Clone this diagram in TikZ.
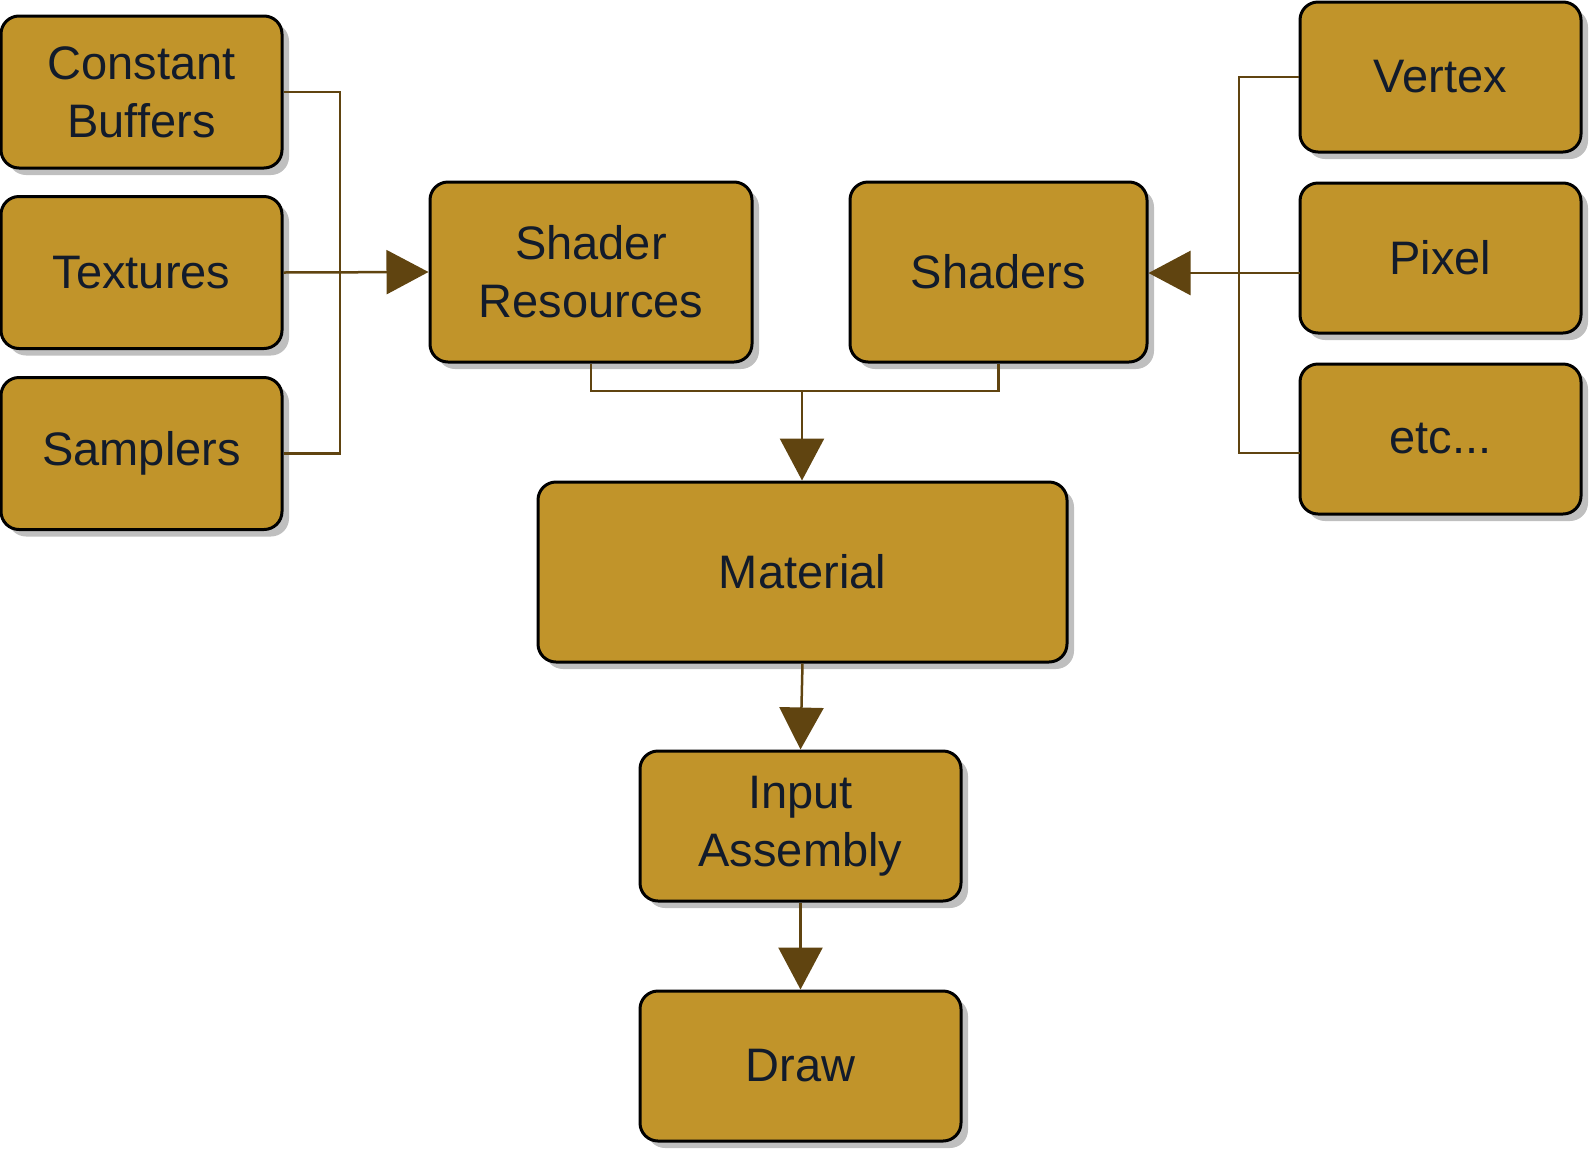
\documentclass[tikz,border=0pt]{standalone}
\usepackage{fontspec}
\setmainfont{Liberation Sans}
\usetikzlibrary{arrows.meta,shadows}
\definecolor{boxfill}{HTML}{C1942A}
\definecolor{linecol}{HTML}{604410}
\definecolor{txtcol}{HTML}{121B2B}
\definecolor{shadowcol}{HTML}{BFBFBF}
\tikzset{
  box/.style={draw=black, line width=1.5pt, fill=boxfill, rounded corners=9pt,
    text=txtcol, align=center, inner sep=0pt,
    font=\fontsize{23.5}{29}\selectfont,
    general shadow={fill=shadowcol, shadow xshift=3.5pt, shadow yshift=-3.5pt}},
  conn/.style={draw=linecol, line width=1.25pt},
  arr/.style={conn, -{Triangle[length=21pt,width=22pt]}, fill=linecol},
}
\begin{document}
\begin{tikzpicture}[x=0.5pt,y=-0.5pt]
\useasboundingbox (0,0) rectangle (1590,1152);
% left group
\node[box, minimum width=140.5pt, minimum height=76pt] (cb) at (141.5,92) {Constant\\Buffers};
\node[box, minimum width=140.5pt, minimum height=76pt] (tex) at (141.5,272.5) {Textures};
\node[box, minimum width=140.5pt, minimum height=76pt] (samp) at (141.5,453.5) {Samplers};
% middle
\node[box, minimum width=161pt, minimum height=90pt] (sr) at (591,272) {Shader\\Resources};
\node[box, minimum width=148.5pt, minimum height=90pt] (sh) at (998.5,272) {Shaders};
% right group
\node[box, minimum width=140.5pt, minimum height=75pt] (vert) at (1440.5,77) {Vertex};
\node[box, minimum width=140.5pt, minimum height=75pt] (pix) at (1440.5,258) {Pixel};
\node[box, minimum width=140.5pt, minimum height=75pt] (etc) at (1440.5,439) {etc...};
% lower chain
\node[box, minimum width=264.5pt, minimum height=90pt] (mat) at (802.5,572) {Material};
\node[box, minimum width=160.5pt, minimum height=75pt] (ia) at (800.5,826) {Input\\Assembly};
\node[box, minimum width=160.5pt, minimum height=75pt] (drw) at (800.5,1066) {Draw};
% coordinates
\coordinate (lj) at (340,273);
\coordinate (rj) at (1239,273);
\coordinate (bj) at (802,391);
% left connectors
\draw[conn] (cb.east) -- (cb.east -| lj) -- (samp.east -| lj) -- (samp.east);
\draw[arr] (tex.east) -- (sr.west);
% right connectors
\draw[conn] (vert.west) -- (vert.west -| rj) -- (1239,453) -- (1300,453);
\draw[arr] (1300,273) -- (sh.east |- rj);
% bottom connectors
\draw[conn] (sr.south) -- (sr.south |- bj) -- (sh.south |- bj) -- (sh.south);
\draw[arr] (bj) -- (bj |- mat.north);
\draw[arr] (mat.south) -- (ia.north);
\draw[arr] (ia.south) -- (drw.north);
\end{tikzpicture}
\end{document}
